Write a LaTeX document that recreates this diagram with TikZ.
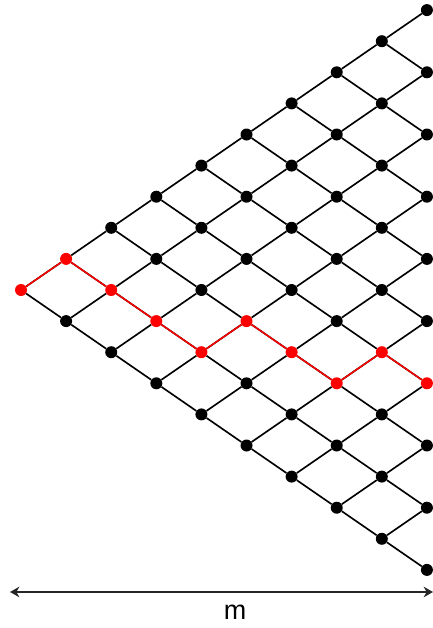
\documentclass[tikz,border=0pt]{standalone}
\usepackage{fontspec}
\setsansfont{Liberation Sans}
\usetikzlibrary{arrows.meta}

\begin{document}
\begin{tikzpicture}[
        x=1.353cm, y=0.933cm,
        dot/.style={circle, fill=black, inner sep=0pt, minimum size=0.36cm},
        reddot/.style={dot, fill=red},
        edge/.style={line width=1.4pt, draw=black},
        rededge/.style={line width=1.3pt, draw=red},
        span/.style={{Stealth[length=8pt,width=9pt]}-{Stealth[length=8pt,width=9pt]}, line width=1.4pt, draw=black!85}
    ]
        \useasboundingbox (-0.466,-10.868) rectangle (9.135,9.325);

        % lattice points, column i holds i+1 points
        \foreach \i/\r in {0/0,1/0,2/1,3/2,4/3,5/3,6/4,7/5,8/5,9/6} {
            \foreach \j in {0,...,\i} {
                \ifnum\j=\r
                    \node[reddot] (v-\i-\j) at (\i, \i-2*\j) {};
                \else
                    \node[dot] (v-\i-\j) at (\i, \i-2*\j) {};
                \fi
            }
        }

        % black links
        \foreach \i in {0,...,8} {
            \foreach \j in {0,...,\i} {
                \pgfmathtruncatemacro\ni{\i+1}
                \pgfmathtruncatemacro\nj{\j+1}
                \draw[edge] (v-\i-\j) -- (v-\ni-\j);
                \draw[edge] (v-\i-\j) -- (v-\ni-\nj);
            }
        }

        % red path
        \foreach \a/\b in {0-0/1-0, 1-0/2-1, 2-1/3-2, 3-2/4-3, 4-3/5-3,
                           5-3/6-4, 6-4/7-5, 7-5/8-5, 8-5/9-6}
            \draw[rededge] (v-\a) -- (v-\b);

        % width
        \coordinate (mleft) at (-0.244, -9.71);
        \coordinate (mright) at (9.135, -9.71);
        \draw[span] (mleft) -- (mright);
        \node[font=\sffamily\fontsize{23}{27}\selectfont] (mlabel) at (4.745, -10.35) {m};
    \end{tikzpicture}
\end{document}
